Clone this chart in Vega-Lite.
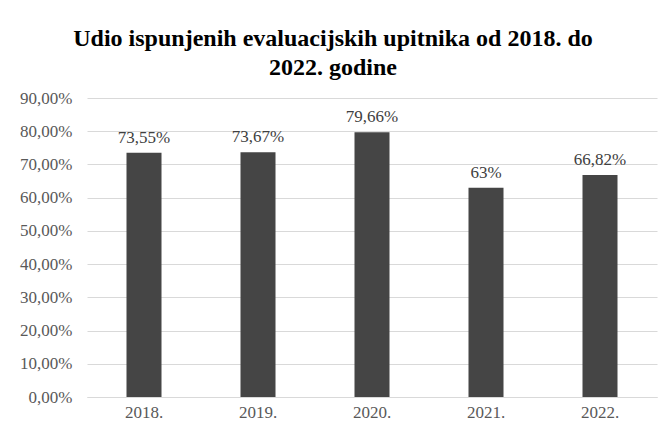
{
  "$schema": "https://vega.github.io/schema/vega-lite/v6.json",
  "width": 570,
  "height": 299,
  "autosize": "none",
  "padding": {"left": 87, "top": 98, "right": 8, "bottom": 36},
  "background": "white",
  "title": {
    "text": ["Udio ispunjenih evaluacijskih  upitnika od 2018. do", "2022. godine"],
    "font": "Liberation Serif, serif",
    "fontSize": 24,
    "fontWeight": "bold",
    "color": "#000000",
    "anchor": "middle",
    "dx": -39,
    "offset": 9,
    "lineHeight": 29
  },
  "data": {
    "values": [
      {"year": "2018.", "value": 73.55, "label": "73,55%"},
      {"year": "2019.", "value": 73.67, "label": "73,67%"},
      {"year": "2020.", "value": 79.66, "label": "79,66%"},
      {"year": "2021.", "value": 63, "label": "63%"},
      {"year": "2022.", "value": 66.82, "label": "66,82%"}
    ]
  },
  "encoding": {
    "x": {
      "field": "year",
      "type": "ordinal",
      "sort": null,
      "scale": {"paddingInner": 0, "paddingOuter": 0},
      "axis": {
        "title": null,
        "labelAngle": 0,
        "labelFont": "Liberation Serif",
        "labelFontSize": 17,
        "labelColor": "#595959",
        "labelPadding": 7,
        "domainColor": "#d9d9d9",
        "domainWidth": 1,
        "ticks": false
      }
    },
    "y": {
      "field": "value",
      "type": "quantitative",
      "scale": {"domain": [0, 90], "nice": false},
      "axis": {
        "title": null,
        "values": [0, 10, 20, 30, 40, 50, 60, 70, 80, 90],
        "labelExpr": "replace(format(datum.value, '.2f'), '.', ',') + '%'",
        "labelFont": "Liberation Serif",
        "labelFontSize": 17,
        "labelColor": "#595959",
        "labelPadding": 15,
        "domain": false,
        "ticks": false,
        "gridColor": "#d9d9d9",
        "gridWidth": 1
      }
    }
  },
  "layer": [
    {"mark": {"type": "bar", "width": 35, "color": "#454545"}},
    {
      "mark": {
        "type": "text",
        "baseline": "bottom",
        "dy": -6,
        "font": "Liberation Serif",
        "fontSize": 17,
        "color": "#404040"
      },
      "encoding": {"text": {"field": "label"}}
    }
  ],
  "config": {"view": {"stroke": null}}
}
